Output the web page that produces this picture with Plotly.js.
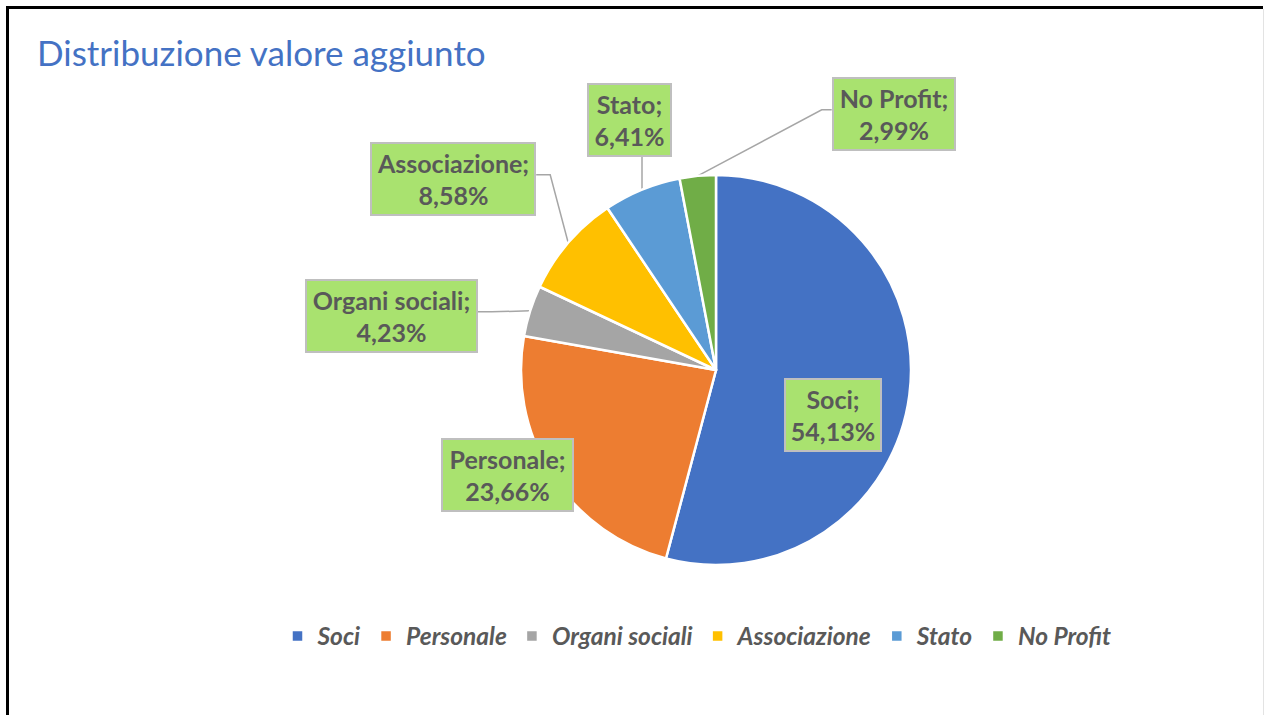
<!DOCTYPE html>
<html>
<head>
<meta charset="utf-8">
<script src="https://cdn.plot.ly/plotly-3.0.1.min.js"></script>
<style>
  html, body { margin: 0; padding: 0; background: #ffffff; }
  #chart { position: absolute; left: 0; top: 0; width: 1265px; height: 715px; }
  .edge { position: absolute; pointer-events: none; }
</style>
</head>
<body>
<div id="chart"></div>
<div class="edge" style="left:6px; top:6px; width:1257px; height:3px; background:#000;"></div>
<div class="edge" style="left:6px; top:6px; width:3px; height:709px; background:#000;"></div>
<div class="edge" style="left:1263px; top:9px; width:1px; height:706px; background:#e3e3e3;"></div>
<script>
// Chart data
const labels = ["Soci", "Personale", "Organi sociali", "Associazione", "Stato", "No Profit"];
const values = [54.13, 23.66, 4.23, 8.58, 6.41, 2.99];
const valueText = ["54,13%", "23,66%", "4,23%", "8,58%", "6,41%", "2,99%"];

// Slice colours
const colors = ["#4472C4", "#ED7D31", "#A5A5A5", "#FFC000", "#5B9BD5", "#70AD47"];

// Label boxes: offset of the box centre from the slice rim point (px), box size (px), leader side
const boxOffsetX = [-76, -44, -139, -115, -12, 196];
const boxOffsetY = [20, 0, 5, -64, -70, -62];
const boxWidth = [98, 133, 173, 166, 85, 124];
const boxHeight = 74;
const leaderSide = [null, null, "right", "right", "bottom", "left"];

const W = 1265, H = 715;
const pieCx = 716, pieCy = 370, pieR = 195;
const domain = {
  x: [(pieCx - pieR) / W, (pieCx + pieR) / W],
  y: [1 - (pieCy + pieR) / H, 1 - (pieCy - pieR) / H]
};

const px2x = px => px / W;
const py2y = py => 1 - py / H;

// Point on the rim at the middle of each slice (clockwise from 12 o'clock), in pixels
function rimPoints() {
  const total = values.reduce((a, b) => a + b, 0);
  let acc = 0;
  return values.map(v => {
    const mid = (acc + v / 2) / total;
    acc += v;
    const ang = mid * 2 * Math.PI;
    return { x: pieCx + pieR * Math.sin(ang), y: pieCy - pieR * Math.cos(ang) };
  });
}

const rims = rimPoints();
const annotations = [];
const shapes = [];

rims.forEach((p, i) => {
  const bx = p.x + boxOffsetX[i];
  const by = p.y + boxOffsetY[i];
  annotations.push({
    xref: "paper", yref: "paper",
    x: px2x(bx), y: py2y(by),
    xanchor: "center", yanchor: "middle",
    showarrow: false,
    text: `${labels[i]};<br>${valueText[i]}`,
    font: { family: "Lato, sans-serif", size: 25, weight: 700, color: "#595959" },
    align: "center",
    bgcolor: "#A9E26F",
    bordercolor: "#BFBFBF",
    borderwidth: 2,
    borderpad: 0,
    width: boxWidth[i] - 4,
    height: boxHeight - 4
  });

  // Elbow leader line from the slice to the box
  const side = leaderSide[i];
  if (!side) return;
  let pts;
  if (side === "bottom") {
    const ey = by + boxHeight / 2;
    pts = [[p.x, p.y], [p.x, ey]];
  } else {
    const ex = side === "right" ? bx + boxWidth[i] / 2 : bx - boxWidth[i] / 2;
    const kx = side === "right" ? ex + 14 : ex - 10;
    const ky = by - 4;
    pts = [[p.x, p.y], [kx, ky], [ex, ky]];
  }
  const path = pts.map((q, k) => `${k ? "L" : "M"}${px2x(q[0])},${py2y(q[1])}`).join(" ");
  shapes.push({
    type: "path", xref: "paper", yref: "paper", path: path,
    line: { color: "#A6A6A6", width: 1.5 }, layer: "below"
  });
});

const trace = {
  type: "pie",
  labels: labels,
  values: values,
  sort: false,
  direction: "clockwise",
  rotation: 0,
  textinfo: "none",
  hoverinfo: "label+percent",
  domain: domain,
  marker: { colors: colors, line: { color: "#ffffff", width: 2.5 } }
};

const layout = {
  width: W,
  height: H,
  margin: { l: 0, r: 0, t: 0, b: 0 },
  paper_bgcolor: "#ffffff",
  plot_bgcolor: "#ffffff",
  title: {
    text: "Distribuzione valore aggiunto",
    font: { family: "Lato, sans-serif", size: 35, color: "#4472C4" },
    xref: "paper", yref: "paper",
    x: 37 / W, xanchor: "left",
    y: 1 - 54 / H, yanchor: "middle"
  },
  showlegend: true,
  legend: {
    orientation: "h",
    x: 697 / W, xanchor: "center",
    y: 1 - 636 / H, yanchor: "middle",
    traceorder: "normal",
    itemwidth: 30,
    font: { family: "Lato, sans-serif", size: 24.5, weight: 700, style: "italic", color: "#595959" }
  },
  shapes: shapes,
  annotations: annotations
};

Plotly.newPlot("chart", [trace], layout, { displayModeBar: false, staticPlot: true });
</script>
</body>
</html>
